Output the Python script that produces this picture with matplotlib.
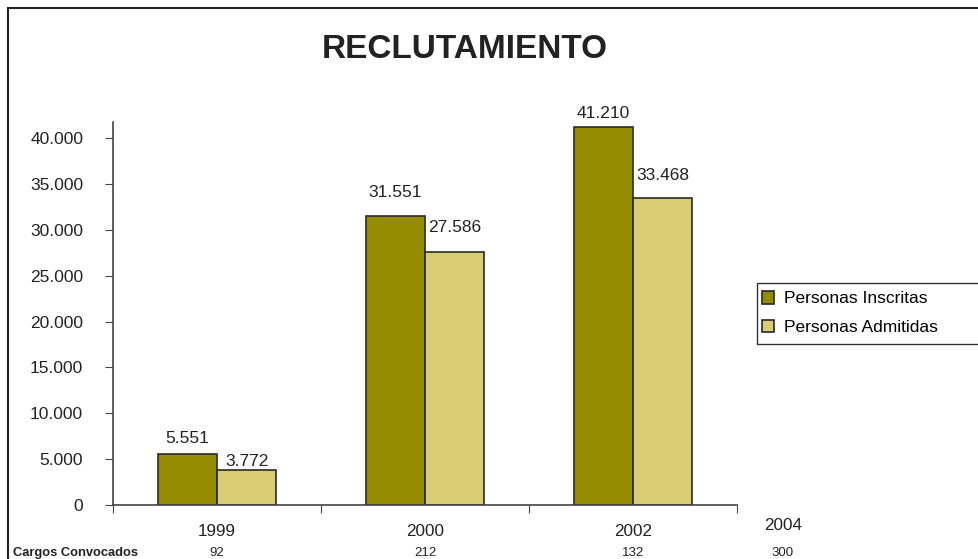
import numpy as np
import matplotlib.pyplot as plt
from matplotlib.patches import Rectangle

plt.rcParams['font.family'] = ['Liberation Sans', 'DejaVu Sans']

# datos
anios = ["1999", "2000", "2002"]
anio_extra = "2004"
inscritas = [5551, 31551, 41210]
admitidas = [3772, 27586, 33468]
cargos = [92, 212, 132, 300]
etiquetas_y = ["0", "5.000", "10.000", "15.000", "20.000", "25.000", "30.000", "35.000", "40.000"]

# separacion de las etiquetas sobre cada barra (px)
sep1 = [16, 23, 13]
sep2 = [9, 24, 22]


def miles(v):
    return "{:,}".format(v).replace(",", ".")


fig = plt.figure(figsize=(9.79, 5.59), dpi=100)
ax = fig.add_axes([113/979, 54/559, 624/979, 383/559])

x = np.arange(len(anios))
w = 0.286
c1 = '#968c00'
c2 = '#d9cd73'
b1 = ax.bar(x - w/2, inscritas, w, color=c1, edgecolor='#2a2a2a', linewidth=1.2, label='Personas Inscritas')
b2 = ax.bar(x + w/2, admitidas, w, color=c2, edgecolor='#2a2a2a', linewidth=1.2, label='Personas Admitidas')

for barras, sep in ((b1, sep1), (b2, sep2)):
    for b, s in zip(barras, sep):
        h = b.get_height()
        ax.annotate(miles(h), (b.get_x() + b.get_width()/2, h), xytext=(0, s*0.72),
                    textcoords='offset points', ha='center', va='center',
                    fontsize=12.5, color='#222222')

ax.set_xlim(-0.5, 2.5)
ax.set_ylim(0, 41750)
ax.set_yticks(np.arange(0, 40001, 5000))
ax.set_yticklabels(etiquetas_y, fontsize=12.5, color='#222222')
ax.set_xticks(np.arange(-0.5, 2.6, 1))
ax.set_xticklabels([])
ax.tick_params(axis='y', length=6, pad=15.5, color='#444444')
ax.tick_params(axis='x', length=6, color='#444444')
for s in ['top', 'right']:
    ax.spines[s].set_visible(False)
for s in ['left', 'bottom']:
    ax.spines[s].set_color('#444444')
    ax.spines[s].set_linewidth(1.2)

# etiquetas de anios y fila de cargos
tf = fig.transFigure
for i, a in enumerate(anios + [anio_extra]):
    if i < 3:
        xp = ax.transData.transform((i, 0))[0]
        yy = 531
    else:
        xp = 783
        yy = 526
    fig.text(xp/979, 1 - yy/559, a, ha='center', va='center', fontsize=12.3, color='#222222')
    fig.text(xp/979, 1 - 553/559, str(cargos[i]), ha='center', va='center', fontsize=9.5, color='#222222')
fig.text(13/979, 1 - 553/559, "Cargos Convocados", ha='left', va='center', fontsize=9.3, fontweight='bold', color='#222222')

fig.text(465/979, 1 - 49/559, "RECLUTAMIENTO", ha='center', va='center', fontsize=24, fontweight='bold', color='#222222')

# leyenda (el marco sale por la derecha)
fig.patches.append(Rectangle((757/979, 1 - 344/559), 0.3, 61/559, transform=tf,
                             fill=False, edgecolor='#333333', linewidth=1.0))
leg = fig.legend(handles=[b1, b2], loc='center left', bbox_to_anchor=(762/979, 1 - 313/559),
                 frameon=False, fontsize=12.5, handlelength=0.72, handleheight=0.72,
                 handletextpad=0.55, borderpad=0, borderaxespad=0, labelspacing=0.75)

# marco exterior
fig.patches.append(Rectangle((8/979, -0.1), 1.2, 1.1 - 8/559, transform=tf,
                             fill=False, edgecolor='#222222', linewidth=1.5))

fig.savefig('out.png', dpi=100)
